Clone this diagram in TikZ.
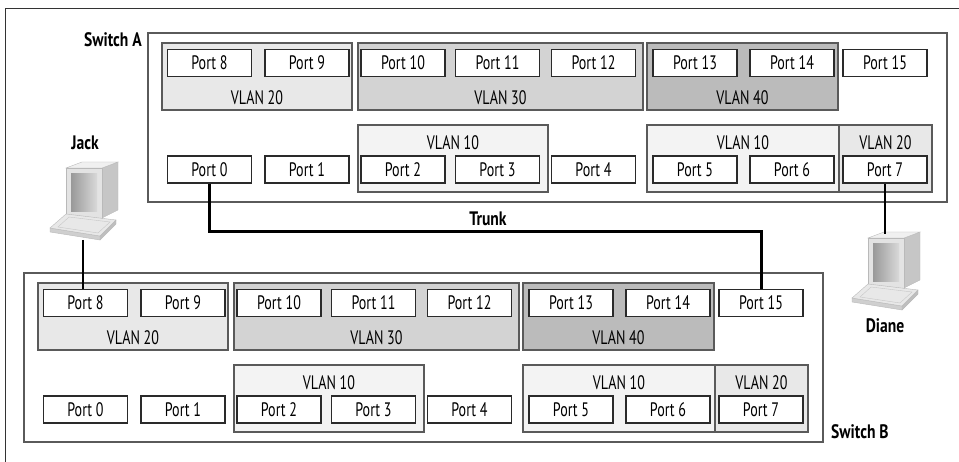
\documentclass[tikz,border=0pt]{standalone}
\usepackage{fontspec}
\setmainfont{PT Sans}[FakeStretch=0.72]
\newfontfamily\titlefont{PT Sans}[FakeStretch=0.8]
\definecolor{gA}{HTML}{E8E8E8}
\definecolor{gB}{HTML}{D3D3D3}
\definecolor{gC}{HTML}{BBBBBB}
\definecolor{gD}{HTML}{F3F3F3}
\definecolor{edgec}{HTML}{5A5A5A}
\definecolor{pedge}{HTML}{2A2A2A}
\tikzset{
  portbox/.style={draw=pedge, fill=white, line width=1.1pt, minimum width=84pt, minimum height=27pt, inner sep=0pt, font=\fontsize{19.5}{19.5}\selectfont},
  grp/.style={draw=edgec, line width=1.1pt},
  swbox/.style={draw=edgec, fill=white, line width=1.1pt},
  lbl/.style={inner sep=0pt, font=\fontsize{19.5}{19.5}\selectfont},
  title/.style={inner sep=0pt, font=\titlefont\fontsize{19.5}{19.5}\selectfont\bfseries},
  wire/.style={line width=1.4pt, black},
  trunk/.style={line width=3pt, black},
}
\newcommand\pport[4]{\node[portbox] (#1) at (#2,#3) {Port #4};}
\newcommand\drawswitch[1]{%
  \draw[swbox] (148,33) rectangle (947,202);
  \draw[grp, fill=gA] (162,43) rectangle (352,110);
  \draw[grp, fill=gB] (358,43) rectangle (643,110);
  \draw[grp, fill=gC] (647,43) rectangle (838,110);
  \draw[grp, fill=gD] (358,125) rectangle (548,192);
  \draw[grp, fill=gD] (647,125) rectangle (839,192);
  \draw[grp, fill=gA] (839,125) rectangle (932,192);
  \node[lbl] (#1v20) at (257,98) {VLAN 20};
  \node[lbl] (#1v30) at (500.5,98) {VLAN 30};
  \node[lbl] (#1v40) at (742.5,98) {VLAN 40};
  \node[lbl] (#1v10a) at (453,143) {VLAN 10};
  \node[lbl] (#1v10b) at (743,143) {VLAN 10};
  \node[lbl] (#1v20b) at (885.5,143) {VLAN 20};
  \pport{#1p8}{209.5}{63}{8}
  \pport{#1p9}{307}{63}{9}
  \pport{#1p10}{403}{63}{10}
  \pport{#1p11}{497.5}{63}{11}
  \pport{#1p12}{593.5}{63}{12}
  \pport{#1p13}{695}{63}{13}
  \pport{#1p14}{792}{63}{14}
  \pport{#1p15}{885}{63}{15}
  \pport{#1p0}{209.5}{169.5}{0}
  \pport{#1p1}{307}{169.5}{1}
  \pport{#1p2}{403}{169.5}{2}
  \pport{#1p3}{497.5}{169.5}{3}
  \pport{#1p4}{593.5}{169.5}{4}
  \pport{#1p5}{695}{169.5}{5}
  \pport{#1p6}{792}{169.5}{6}
  \pport{#1p7}{885}{169.5}{7}
}
\newcommand\computer[4]{% x, y, top coord name, bottom coord name
  \begin{scope}[shift={(#1,#2)}]
    \filldraw[fill=gray!45, draw=gray!55, line width=0.4pt] (52,10) -- (68,4) -- (68,52) -- (52,60) -- cycle;
    \filldraw[fill=gray!12, draw=gray!55, line width=0.4pt] (16,10) -- (32,4) -- (68,4) -- (52,10) -- cycle;
    \filldraw[fill=gray!22, draw=gray!55, line width=0.4pt] (16,10) rectangle (52,60);
    \shade[left color=gray!80, right color=gray!30] (21,16) rectangle (47,54);
    \filldraw[fill=gray!50, draw=gray!55, line width=0.4pt] (50,78) -- (66,62) -- (66,66) -- (50,82) -- cycle;
    \filldraw[fill=gray!38, draw=gray!55, line width=0.4pt] (0,70) -- (50,78) -- (50,82) -- (0,74) -- cycle;
    \filldraw[fill=gray!18, draw=gray!55, line width=0.4pt] (0,70) -- (16,56) -- (66,62) -- (50,78) -- cycle;
    \draw[gray!45, line width=0.4pt] (8,69) -- (19,59) -- (60,64) -- (48,75) -- cycle;
    \coordinate (#3) at (35,6);
    \coordinate (#4) at (33,82);
  \end{scope}
}
\begin{document}
\begin{tikzpicture}[x=1pt, y=-1pt]
  \useasboundingbox (0,0) rectangle (959,462);
  \draw[gray!40!black, line width=0.8pt] (5,462) -- (5,8) -- (959,8);
  \drawswitch{A}
  \begin{scope}[shift={(-124,240)}]
    \drawswitch{B}
  \end{scope}
  \node[title, anchor=east] (swA) at (142,40) {Switch A};
  \node[title, anchor=west] (swB) at (831,432) {Switch B};
  \node[title] (jackl) at (85,143) {Jack};
  \node[title] (dianel) at (885,326) {Diane};
  \computer{50}{158}{jtop}{jbot}
  \computer{852}{228}{dtop}{dbot}
  \coordinate (tr) at (500,232);
  \draw[trunk] (Ap0.south) |- (tr) -| (Bp15.north);
  \node[title] (trunkl) at (488,219) {Trunk};
  \draw[wire] (jbot) -- (jbot |- Bp8.north);
  \draw[wire] (Ap7.south) -- (Ap7.south |- dtop);
\end{tikzpicture}
\end{document}
